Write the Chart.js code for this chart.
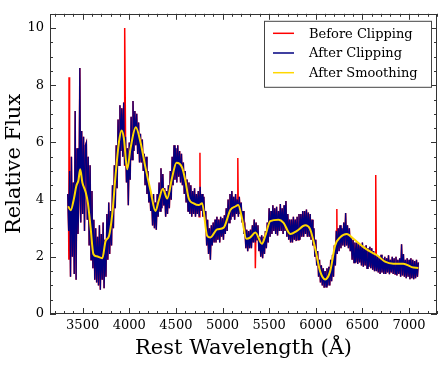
<!DOCTYPE html>
<html><head><meta charset="utf-8">
<script src="https://cdn.jsdelivr.net/npm/chart.js@4"></script>
<style>html,body{margin:0;padding:0;background:#fff}</style>
</head><body>
<canvas id="c" width="443" height="366"></canvas>
<script>
const wavelengths = [
3340,3350,3360,3370,3380,3390,3400,3410,3420,3430,
3440,3450,3460,3470,3480,3490,3500,3510,3520,3530,
3540,3550,3560,3570,3580,3590,3600,3610,3620,3630,
3640,3650,3660,3670,3680,3690,3700,3710,3720,3730,
3740,3750,3760,3770,3780,3790,3800,3810,3820,3830,
3840,3850,3860,3870,3880,3890,3900,3910,3920,3930,
3940,3950,3960,3970,3980,3990,4000,4010,4020,4030,
4040,4050,4060,4070,4080,4090,4100,4110,4120,4130,
4140,4150,4160,4170,4180,4190,4200,4210,4220,4230,
4240,4250,4260,4270,4280,4290,4300,4310,4320,4330,
4340,4350,4360,4370,4380,4390,4400,4410,4420,4430,
4440,4450,4460,4470,4480,4490,4500,4510,4520,4530,
4540,4550,4560,4570,4580,4590,4600,4610,4620,4630,
4640,4650,4660,4670,4680,4690,4700,4710,4720,4730,
4740,4750,4760,4770,4780,4790,4800,4810,4820,4830,
4840,4850,4860,4870,4880,4890,4900,4910,4920,4930,
4940,4950,4960,4970,4980,4990,5000,5010,5020,5030,
5040,5050,5060,5070,5080,5090,5100,5110,5120,5130,
5140,5150,5160,5170,5180,5190,5200,5210,5220,5230,
5240,5250,5260,5270,5280,5290,5300,5310,5320,5330,
5340,5350,5360,5370,5380,5390,5400,5410,5420,5430,
5440,5450,5460,5470,5480,5490,5500,5510,5520,5530,
5540,5550,5560,5570,5580,5590,5600,5610,5620,5630,
5640,5650,5660,5670,5680,5690,5700,5710,5720,5730,
5740,5750,5760,5770,5780,5790,5800,5810,5820,5830,
5840,5850,5860,5870,5880,5890,5900,5910,5920,5930,
5940,5950,5960,5970,5980,5990,6000,6010,6020,6030,
6040,6050,6060,6070,6080,6090,6100,6110,6120,6130,
6140,6150,6160,6170,6180,6190,6200,6210,6220,6230,
6240,6250,6260,6270,6280,6290,6300,6310,6320,6330,
6340,6350,6360,6370,6380,6390,6400,6410,6420,6430,
6440,6450,6460,6470,6480,6490,6500,6510,6520,6530,
6540,6550,6560,6570,6580,6590,6600,6610,6620,6630,
6640,6650,6660,6670,6680,6690,6700,6710,6720,6730,
6740,6750,6760,6770,6780,6790,6800,6810,6820,6830,
6840,6850,6860,6870,6880,6890,6900,6910,6920,6930,
6940,6950,6960,6970,6980,6990,7000,7010,7020,7030,
7040,7050,7060,7070,7080,7090,7100];
const afterClipping = [
4.2,2.9,5.0,1.3,5.5,2.0,4.6,1.4,7.1,1.2,
5.8,2.8,4.0,8.6,3.2,6.4,3.5,6.2,2.9,5.9,
6.0,3.3,5.5,2.4,5.2,1.9,4.3,1.6,3.3,1.2,
3.0,1.1,2.7,1.0,3.1,0.85,2.8,1.2,3.2,0.9,
2.6,1.3,3.5,1.9,3.9,2.1,3.6,2.4,4.5,3.0,
5.2,3.7,5.9,4.4,6.8,5.2,7.3,5.7,7.2,5.5,
7.4,5.2,6.2,4.6,5.8,3.8,6.0,4.7,6.9,5.4,
7.45,5.7,7.1,5.9,7.0,5.6,6.7,5.3,6.3,5.3,
6.1,5.0,5.6,4.5,5.5,4.2,5.0,3.9,4.4,3.6,
4.1,3.1,4.2,3.0,3.9,2.95,4.2,3.4,4.6,3.6,
5.1,3.7,4.9,3.8,4.4,3.4,4.3,3.5,4.5,3.7,
5.0,4.0,5.5,4.5,5.9,4.7,5.8,4.6,5.9,4.8,
5.7,4.6,5.6,4.5,5.3,4.2,5.0,3.9,4.7,3.6,
4.6,3.5,4.5,3.4,4.3,3.5,4.4,3.4,4.2,3.5,
4.3,3.4,4.45,3.6,4.2,3.4,4.1,3.3,3.6,2.4,
3.3,2.1,3.0,1.9,3.1,2.4,3.2,2.5,3.3,2.5,
3.4,2.6,3.3,2.5,3.4,2.7,3.35,2.6,3.45,2.8,
3.7,2.9,4.0,3.2,4.2,3.3,4.3,3.4,4.1,3.3,
4.2,3.5,4.0,3.4,4.1,3.5,3.9,3.2,3.6,2.8,
3.0,2.3,2.95,2.2,2.9,2.3,2.95,2.3,3.1,2.5,
3.3,2.5,3.2,2.6,3.1,2.2,2.7,2.0,2.75,1.95,
2.7,2.1,2.9,2.3,3.2,2.5,3.7,2.7,3.6,2.8,
3.8,2.9,3.7,2.8,3.75,2.75,3.6,2.9,3.85,2.9,
3.7,2.8,3.8,2.9,3.95,2.7,3.5,2.6,3.3,2.5,
3.3,2.5,3.4,2.6,3.3,2.55,3.4,2.6,3.5,2.6,
3.5,2.7,3.6,2.7,3.6,2.8,3.65,2.7,3.55,2.7,
3.5,2.6,3.3,2.4,3.0,2.0,2.6,1.7,2.2,1.3,
1.9,1.1,1.7,1.0,1.6,0.92,1.5,0.95,1.6,1.0,
1.65,1.0,1.9,1.15,2.07,1.3,2.4,1.7,2.9,2.1,
3.0,2.2,3.1,2.3,3.0,2.4,3.2,2.35,3.53,2.4,
3.1,2.3,3.0,2.2,2.7,1.9,2.6,1.8,2.5,1.8,
2.5,1.75,2.45,1.8,2.4,1.7,2.5,1.65,2.35,1.7,
2.4,1.6,2.3,1.65,2.35,1.6,2.3,1.55,2.2,1.5,
2.1,1.5,2.05,1.45,2.0,1.4,2.07,1.45,1.95,1.4,
2.0,1.4,1.95,1.45,2.05,1.39,1.9,1.45,2.0,1.4,
1.95,1.4,2.0,1.35,1.9,1.4,1.95,1.3,2.44,1.35,
2.1,1.3,1.9,1.25,1.95,1.3,1.9,1.22,1.95,1.25,
1.9,1.22,1.85,1.25,1.9,1.3,1.8];
const spikeWavelengths = [3352,3354,3951,4758,5164,5352,6226,6643];
const spikeFlux = [1.9,8.28,10.0,5.64,5.46,1.6,3.67,4.86];
const smoothWavelengths = [3345,3372,3407,3433,3454,3474,3497,3532,3557,3586,3615,3650,3711,3746,3782,3818,3853,3889,3917,3942,3978,4014,4070,4121,4174,4228,4281,4317,4360,4407,4460,4506,4567,4602,4638,4691,4745,4781,4835,4870,4942,5012,5084,5138,5168,5209,5255,5298,5352,5423,5459,5512,5601,5655,5726,5798,5887,5940,5994,6047,6101,6154,6208,6261,6333,6404,6511,6618,6654,6743,6832,6939,7029,7100];
const smoothFlux = [3.77,3.63,4.04,4.49,4.66,5.06,4.6,4.27,3.87,3.0,2.1,2.02,1.95,2.55,2.72,3.5,4.85,6.0,6.42,6.15,5.06,5.8,6.53,6.0,5.12,4.32,3.6,3.98,4.38,4.04,4.78,5.29,5.12,4.66,4.04,3.87,3.81,3.87,2.74,2.68,2.96,3.02,3.64,3.76,3.81,3.35,2.63,2.68,2.85,2.46,2.74,3.25,3.30,3.19,2.80,2.91,3.10,2.96,2.29,1.49,1.21,1.49,2.40,2.68,2.80,2.63,2.34,2.12,2.06,1.83,1.76,1.76,1.64,1.61];
const xTickValues = [3500,4000,4500,5000,5500,6000,6500,7000];
const yTickValues = [0,2,4,6,8,10];
const seriesLabels = ['Before Clipping','After Clipping','After Smoothing'];

const afterData = wavelengths.map((w,i)=>({x:w,y:afterClipping[i]}));
const beforeData = afterData.concat(spikeWavelengths.map((w,i)=>({x:w,y:spikeFlux[i]}))).sort((a,b)=>a.x-b.x);
const smoothData = smoothWavelengths.map((w,i)=>({x:w,y:smoothFlux[i]}));

const FONT = "'DejaVu Serif', serif";
const AXIS = '#333';

const framePlugin = {
  id:'frame',
  afterDatasetsDraw(chart){
    const {ctx, chartArea:{left,right,top,bottom}, scales:{x,y}} = chart;
    ctx.save();
    ctx.strokeStyle = AXIS; ctx.lineWidth = 1;
    ctx.beginPath();
    for (let v=3200; v<=7300; v+=100){
      const p = Math.round(x.getPixelForValue(v))+0.5;
      const len = v%500===0 ? 6 : 3;
      ctx.moveTo(p,bottom); ctx.lineTo(p,bottom-len);
      ctx.moveTo(p,top); ctx.lineTo(p,top+len);
    }
    for (let v=0; v<=10.5; v+=0.5){
      const p = Math.round(y.getPixelForValue(v))+0.5;
      const len = v%2===0 ? 6 : 3;
      ctx.moveTo(left,p); ctx.lineTo(left+len,p);
      ctx.moveTo(right,p); ctx.lineTo(right-len,p);
    }
    ctx.stroke();
    ctx.strokeRect(Math.round(left)+0.5, Math.round(top)+0.5, Math.round(right-left)-1, Math.round(bottom-top)-1);
    // legend
    const bx = right-173, by = top+7, bw = 167, bh = 66;
    ctx.fillStyle='#fff'; ctx.fillRect(bx,by,bw,bh);
    ctx.strokeStyle='#444'; ctx.strokeRect(bx+0.5,by+0.5,bw,bh);
    ctx.font = "13px "+FONT; ctx.textBaseline='middle'; ctx.fillStyle='#000';
    chart.data.datasets.forEach((ds,i)=>{
      const ry = by + 12.5 + i*19.7;
      ctx.strokeStyle = ds.borderColor; ctx.lineWidth = 1.5;
      ctx.beginPath(); ctx.moveTo(bx+9, ry); ctx.lineTo(bx+30, ry); ctx.stroke();
      ctx.fillText(ds.label, bx+45, ry+1);
    });
    ctx.restore();
  }
};

new Chart(document.getElementById('c'), {
  type:'line',
  data:{datasets:[
    {label:seriesLabels[0], data:beforeData, borderColor:'#ff0000', borderWidth:1.5, pointRadius:0, tension:0, order:3},
    {label:seriesLabels[1], data:afterData, borderColor:'#000080', borderWidth:1.3, pointRadius:0, tension:0, order:2},
    {label:seriesLabels[2], data:smoothData, borderColor:'#ffd700', borderWidth:2, pointRadius:0, cubicInterpolationMode:'monotone', order:1}
  ]},
  options:{
    responsive:false, animation:false, devicePixelRatio:1,
    layout:{padding:{left:0,right:6,top:5,bottom:0}},
    plugins:{legend:{display:false}, tooltip:{enabled:false}},
    scales:{
      x:{type:'linear', min:3150, max:7300,
        grid:{display:false, drawTicks:false}, border:{display:false},
        afterBuildTicks:s=>{s.ticks = xTickValues.map(v=>({value:v}));},
        afterFit:s=>{s.height=52;},
        ticks:{font:{family:FONT,size:13}, color:'#000', padding:4, maxRotation:0, autoSkip:false, callback:v=>String(v)},
        title:{display:true, text:'Rest Wavelength (Å)', color:'#000', font:{family:FONT,size:21}, padding:{top:0,bottom:5}}
      },
      y:{type:'linear', min:0, max:10.5,
        grid:{display:false, drawTicks:false}, border:{display:false},
        afterBuildTicks:s=>{s.ticks = yTickValues.map(v=>({value:v}));},
        afterFit:s=>{s.width=50;},
        ticks:{font:{family:FONT,size:13}, color:'#000', padding:6, callback:v=>String(v)},
        title:{display:true, text:'Relative Flux', color:'#000', font:{family:FONT,size:21}, padding:{top:2,bottom:0}}
      }
    }
  },
  plugins:[framePlugin]
});
</script>
</body></html>
